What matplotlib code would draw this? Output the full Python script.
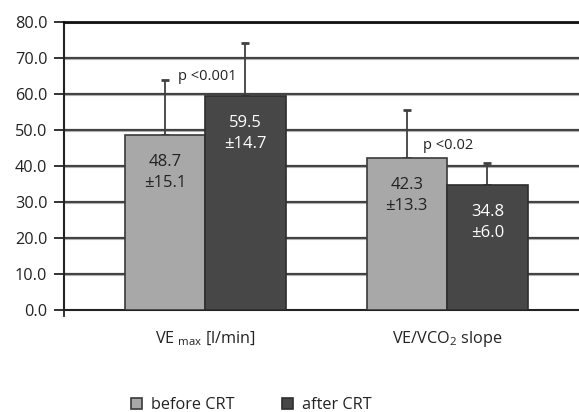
import matplotlib
matplotlib.use("Agg")
import matplotlib.pyplot as plt
import numpy as np

categories = ["VE$_{\\ \\mathregular{max}}$ [l/min]", "VE/VCO$_\\mathregular{2}$ slope"]
series_names = ["before CRT", "after CRT"]
before = [48.7, 42.3]
before_sd = [15.1, 13.3]
after = [59.5, 34.8]
after_sd = [14.7, 6.0]
p_labels = ["p <0.001", "p <0.02"]
yticks = [0, 10, 20, 30, 40, 50, 60, 70, 80]

plt.rcParams['font.family'] = ['Open Sans', 'DejaVu Sans']
plt.rcParams['mathtext.fontset'] = 'custom'
plt.rcParams['mathtext.rm'] = 'Open Sans'

fig = plt.figure(figsize=(5.79, 4.12), dpi=100)
ax = fig.add_axes([64/579, 1 - 310/412, 1 - 64/579, 288/412])

x = np.arange(len(categories))
w = 0.333
c_before = "#a8a8a8"
c_after = "#474747"
fs = 11.7

for yv in yticks[1:]:
    ax.axhline(yv, color="#404040", lw=1.6, zorder=1)
    ax.axhline(yv - 0.35, color="#b0b0b0", lw=0.8, zorder=1)

ax.bar(x - w/2, before, w, color=c_before, edgecolor="#3a3a3a", lw=1.2, zorder=3, label=series_names[0])
ax.bar(x + w/2, after, w, color=c_after, edgecolor="#2e2e2e", lw=1.2, zorder=3, label=series_names[1])
ax.errorbar(x - w/2, before, yerr=[np.zeros(2), before_sd], fmt="none", ecolor="#404040",
            elinewidth=1.3, capsize=3, capthick=2, zorder=2)
ax.errorbar(x + w/2, after, yerr=[np.zeros(2), after_sd], fmt="none", ecolor="#404040",
            elinewidth=1.3, capsize=3, capthick=2, zorder=2)

for i in range(len(categories)):
    ax.text(x[i] - w/2, before[i] - 10.5, f"{before[i]:.1f}\n±{before_sd[i]:.1f}", ha="center",
            va="center", fontsize=12, color="#222222", linespacing=1.45, zorder=4)
    ax.text(x[i] + w/2, after[i] - 10.5, f"{after[i]:.1f}\n±{after_sd[i]:.1f}", ha="center",
            va="center", fontsize=12, color="white", linespacing=1.45, zorder=4)

ax.text(x[0] - 0.11, 65.0, p_labels[0], fontsize=10.5, color="#222222", ha="left", va="center")
ax.text(x[1] - 0.10, 45.8, p_labels[1], fontsize=10.5, color="#222222", ha="left", va="center")

ax.set_xlim(-0.583, 1.545)
ax.set_ylim(0, 80)
ax.set_yticks(yticks)
ax.set_yticklabels([f"{v:.1f}" for v in yticks], fontsize=fs, color="#222222")
ax.tick_params(axis='y', length=7, width=1.3, color="#222222", pad=5)
ax.set_xticks(x)
ax.set_xticklabels(categories, fontsize=fs, color="#222222")
ax.tick_params(axis='x', length=0, pad=14)
ax.plot([-0.583, -0.583], [0, -1.8], color="#222222", lw=1.3, clip_on=False)

ax.spines["right"].set_visible(False)
ax.spines["left"].set_color("#222222")
ax.spines["left"].set_linewidth(1.5)
ax.spines["bottom"].set_color("#222222")
ax.spines["bottom"].set_linewidth(1.5)
ax.spines["top"].set_color("#111111")
ax.spines["top"].set_linewidth(2)

fig.legend(loc="center", bbox_to_anchor=(0.434, 7/412), ncol=2, frameon=False,
           fontsize=fs, handlelength=0.68, handleheight=0.68, columnspacing=2.9, handletextpad=0.55,
           labelcolor="#222222", borderaxespad=0)

fig.savefig("out.png", dpi=100)
